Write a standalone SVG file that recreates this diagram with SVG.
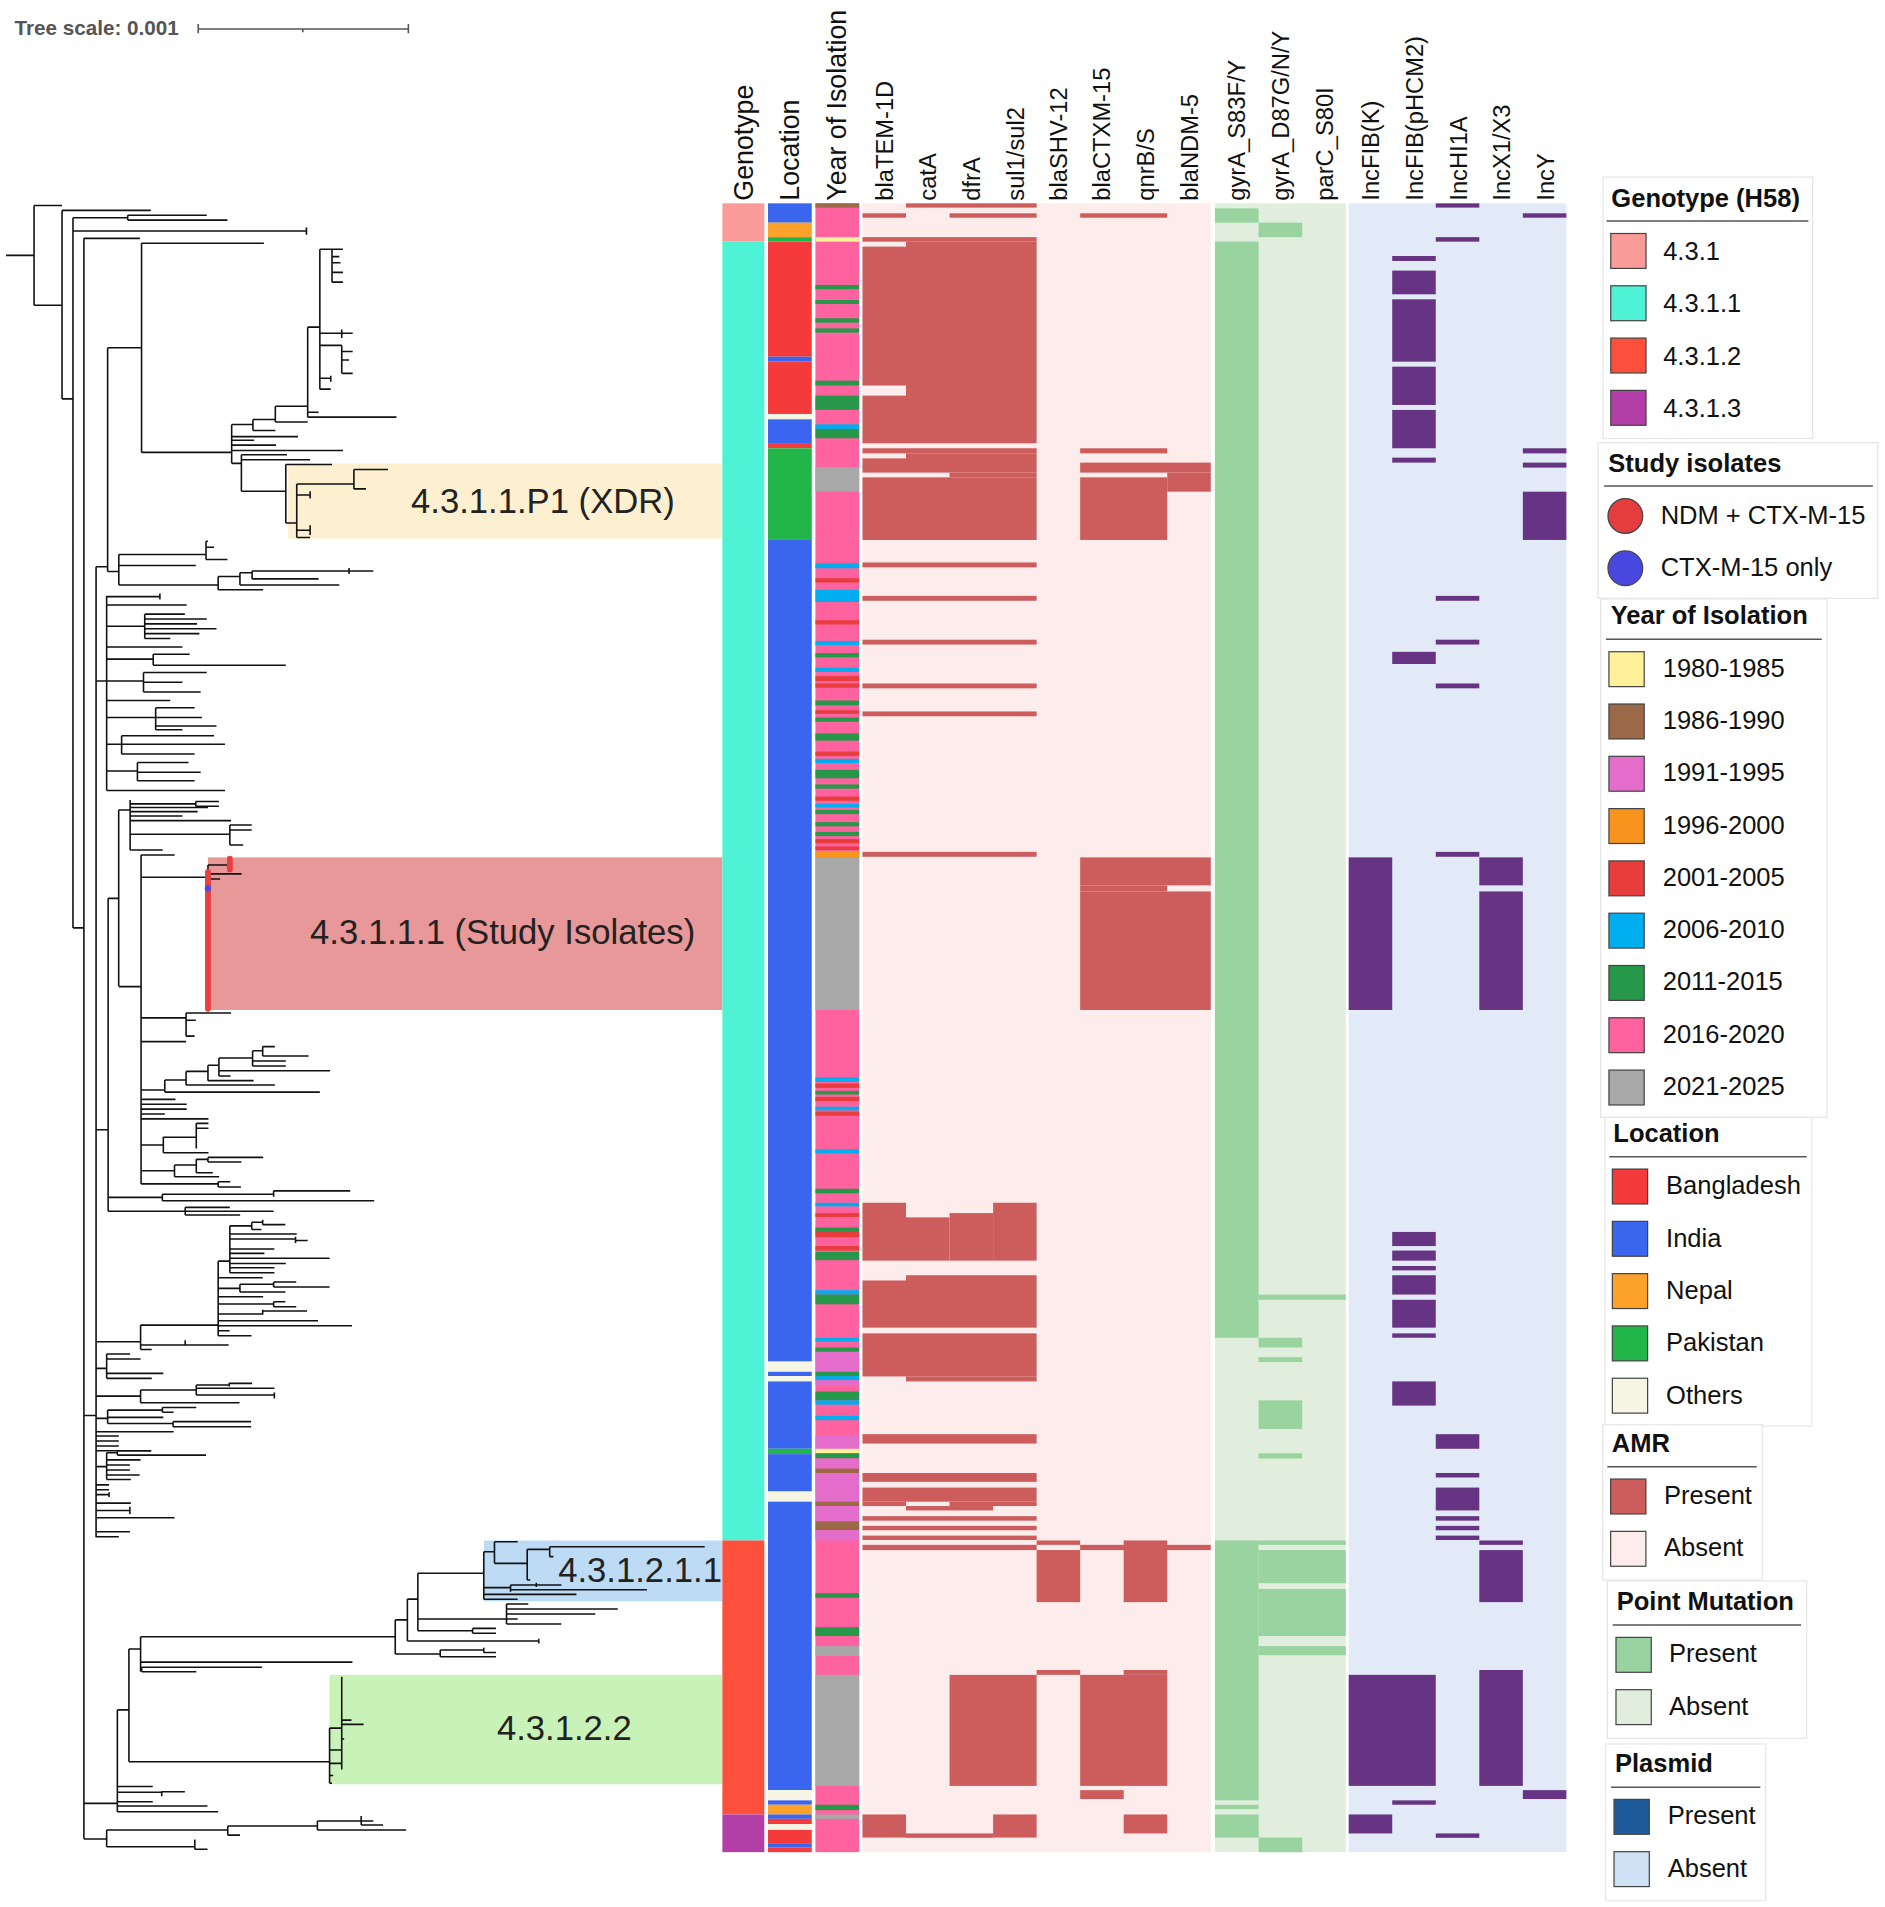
<svg xmlns="http://www.w3.org/2000/svg" width="1885" height="1907" viewBox="0 0 1885 1907">
<style>
text{font-family:"Liberation Sans",Arial,sans-serif;fill:#111}
.hd{font-size:22px}
.hg{font-size:19.5px}
.lt{font-size:21px;font-weight:bold}
.ll{font-size:21px}
.cl{font-size:28.5px;fill:#222}
.box{fill:#fff;stroke:#e6e6e6;stroke-width:1}
.ul{stroke:#555;stroke-width:1.2}
.sw{stroke:#444;stroke-width:1}
.tree{fill:none;stroke:#111;stroke-width:1.3}
.a{fill:#cd5c5c}.p{fill:#98d3a0}.q{fill:#663482}
.y80{fill:#fff09a}.y86{fill:#9b6848}.y91{fill:#e46dcc}.y96{fill:#f7941d}.y01{fill:#e83d3d}.y06{fill:#00adee}.y11{fill:#27984a}.y16{fill:#fe639f}.y21{fill:#a8a8a8}
.lb{fill:#f43a3b}.li{fill:#3a66ef}.ln{fill:#fca12a}.lp{fill:#22b54a}.lo{fill:#f7f5e4}
</style>
<rect width="1885" height="1907" fill="#fff"/>
<g transform="scale(1.21613)">
<g id="tree-scale">
<text x="12" y="29" style="font-size:17px;font-weight:bold;fill:#555">Tree scale: 0.001</text>
<path d="M163,23.8H335.8M163,19.7V27.4M335.8,19.7V27.4M249,23.8V26.5" fill="none" stroke="#555" stroke-width="1.3"/>
</g>
<g id="clade-bands">
<rect x="237" y="381" width="357" height="62" fill="#fdf0d0"/>
<rect x="171" y="705" width="423" height="125.5" fill="#e89898"/>
<rect x="398" y="1266.7" width="196" height="50" fill="#bddbf5"/>
<rect x="271" y="1377.2" width="323" height="90" fill="#c9f2b9"/>
<text class="cl" x="338" y="421.5">4.3.1.1.P1 (XDR)</text>
<text class="cl" x="255" y="776.5">4.3.1.1.1 (Study Isolates)</text>
<text class="cl" x="459" y="1300.5">4.3.1.2.1.1</text>
<text class="cl" x="408.6" y="1430.5">4.3.1.2.2</text>
</g>
<g id="tree">
<path class="tree" d="M5,210H28M28,169V251M28,169H51M28,251H51M51,173V328M51,173H124M51,328H60M60,179V763M60,179H105M105,177V181M105,177H170M105,181H187M60,190H252M252,187V193M60,763H69M69,196V1512M69,196H115M69,1164H79M79,466V1264M79,466H88.5M88.5,286V470M88.5,286H116.4M116.4,200V372M116.4,200H217M116.4,372H190.5M190.5,349V381M190.5,349H208M208,345V354M208,345H226.4M226.4,334V347M226.4,334H253M253,269V343M253,343H326M253,339H262M226.4,347H253M208,354H226.4M190.5,359H245M190.5,362H209M190.5,366H227M190.5,370.5H282M190.5,381H198.5M198.5,374V404M198.5,374H236M198.5,378H255M198.5,404H235M235,382V430M235,382H273M235,430H244M244,398V442M244,398H291M291,386V402M291,386H319M291,402H301M244,407H255M255,404V410M244,436H255M255,432V440M244,442H255
M253,269H263M263,205V320M263,205H273M273,205V232M273,205H282M273,211H279M273,216H280M273,224H282M273,232H282M263,274H290M281,271V278M263,284H281M281,284V307M281,289H290M281,296H287M281,307H290M263,311H272M272,309V314M263,320H272
M88.5,470H97.7M97.7,456V481M97.7,456H169.4M169.4,445V460M169.4,445H171M169.4,450H176M169.4,460H187M97.7,465H161M97.7,481H179.4M179.4,474V485M179.4,474H197.3M197.3,471V481M197.3,471H207.3M207.3,469.5V476M207.3,469.5H287M287,467V472M287,469.5H307M207.3,476H262M197.3,481H279M179.4,485H216.4
M79,560H87.7M87.7,490V650M87.7,490.6H131.5M131.5,488V493M87.7,497.5H153.5M87.7,515H119M119,505V525M119,505H152M119,509H170M119,513H162M119,517H178M119,521H164M119,525H140M87.7,532H150M87.7,542H126M126,538V547M126,538H156M126,547H235M87.7,560H118M118,553V569M118,553H170M118,561H150M118,569H165M87.7,576H140M87.7,590H128M128,582V600M128,582H160M128,590H166M128,597H178M128,600H150M87.7,612H100M100,605V620M100,605H176M100,612H185M100,620H160M87.7,634H113M113,627V642M113,627H155M113,635H165M113,642H160M87.7,650H185
M79,929H88.9M88.9,738.7V996M88.9,738.7H97.6M97.6,666V811M97.6,666H107M107,657.8V699M107,661H161M161,659V663M161,659H180M161,663H180M107,664H171M107,667.4H162.5M107,671H150M107,674.8H190M107,686H189M189,678.4V694.8M189,678.4H207M189,682.5H207M189,694.8H200M107,699H133.8M97.6,811.3H116M116,703V973.5M116,703H143.6M116,721.4H171M171,711.3V830.5M171,711.3H189M189,705V716M171,718.6H198.7M171,722.8H181M116,837H153M153,833V852M153,833H190M153,839H161M153,852H160M116,856.5H153
M116,896.3H135.5M135.5,888V898M135.5,888H153M153,881V892.2M153,892.2H226M153,881H171M171,876V888.6M171,888.6H208.5M171,876H180M180,870V884.8M180,884.8H189.6M180,880.4H271.4M180,870H207.7M207.7,864V876.5M207.7,872.4H235M207.7,876.5H235M207.7,864H216M216,860.6V868.3M216,860.6H226M216,868.3H253.7M135.5,898H263
M116,904H144.3M116,908H153.5M116,912H153.5M116,916H135.5M116,920H171.4M116,941.5H134.3M134.3,934.7V947.9M134.3,935.2H161.4M161.4,923.7V944.3M161.4,923.7H171.4M161.4,927.8H171.4M134.3,947.9H171.4M116,962.7H143.5M143.5,958V967.6M143.5,958H161.4M161.4,953.3V964.3M161.4,953.3H171M171,951.7V955.5M171,951.7H216.4M171,955.5H198.5M161.4,964.3H175M143.5,967.6H180.2M116,973.5H179.4M179.4,971.7V976M179.4,971.7H189.3M179.4,976H198.1
M88.9,984.6H133.5M133.5,982V987.3M133.5,982H225M225,979.2V984M225,979.2H288M133.5,987.3H307.7M88.9,996H152.3M152.3,992.8V999.1M152.3,992.8H189M152.3,996H225M152.3,999.1H197.5
M79,1103.3H115.6M115.6,1089.6V1109.6M115.6,1089.6H179.4M179.4,1037V1098.3M179.4,1037H189M189,1008V1046.5M189,1008H207M207,1005V1011M207,1005H216M216,1003V1007M216,1007H234.6M207,1011H215M189,1014.7H244M189,1018.8H243M243,1017V1022M243,1020H253M189,1027H225.6M189,1030.6H217.4M189,1034.7H271M189,1038.9H235M189,1042.4H225.6M189,1046.5H225.6M179.4,1050.6H216M179.4,1059.4H197.3M197.3,1056V1062.4M197.3,1056H225M225,1054.2V1058.3M225,1054.2H243.6M225,1058.3H271M197.3,1062.4H234.6M179.4,1066.3H216.4M179.4,1072.3H225M225,1070.4V1074.5M225,1070.4H234.6M225,1074.5H243.6M179.4,1080.5H216M216,1077V1081M216,1078H252.5M179.4,1086H261.5M179.4,1090.1H289.4M179.4,1094.2H188.8M179.4,1098.3H206.8M115.6,1106H152.3M152.3,1102V1106M152.3,1106H188M115.6,1109.6H124.8
M79,1125.2H87.7M87.7,1113.4V1133.4M87.7,1113.4H107M87.7,1117.5H115.6M87.7,1129.3H134.3M87.7,1133.4H124.8M79,1148H115.6M115.6,1143V1153.4M115.6,1143H161.4M161.4,1138.9V1147.1M161.4,1138.9H188.5M188.5,1137V1140M188.5,1137.5H207.3M161.4,1141.6H225.6M161.4,1147.1H225.6M225.6,1145V1150M115.6,1153.4H196.9
M79,1166.3H88.5M88.5,1159.5V1170.5M88.5,1159.5H133.5M133.5,1157.3V1161.3M133.5,1157.3H161.4M133.5,1161.3H142.7M88.5,1165.5H134.3M88.5,1170.5H142.3M142.3,1169V1173.2M142.3,1169H206.5M142.3,1173.2H206.5M79,1177.3H142.7M79,1180.8H97.7M79,1184.9H97.7M79,1189H97.7M79,1192.9H97.7M79,1206H87.7M87.7,1194.6V1216.5M87.7,1194.6H96.5M96.5,1193V1196.5M96.5,1193H124.4M96.5,1196.5H169.4M87.7,1200.4H115.6M87.7,1204.6H106.8M87.7,1208.7H106.8M87.7,1212.8H114.8M87.7,1216.5H107.6M79,1221H89.7M79,1225H89.7M79,1229H89.7M89.7,1227V1231M79,1236H107.6M79,1242H106.8M106.8,1239V1245M79,1248H143.5M79,1259.5H106.8M79,1263.6H97.7
M69,1482.9H96.5M96.5,1406V1489.7M96.5,1406H106M106,1356V1448.6M106,1356H115.6M115.6,1345.8V1374.6M115.6,1345.8H325M325,1332V1360M325,1332H335M335,1314.9V1349.4M335,1314.9H343.6M343.6,1293.7V1341M343.6,1293.7H397.8M397.8,1276V1315.1M397.8,1276H406.6M406.6,1267.7V1285.5M406.6,1267.7H425.7M406.6,1285.5H433.5M433.5,1274V1299.2M433.5,1274H452M452,1271.8V1280M452,1271.8H579.5M452,1280H455M433.5,1299.2H436M397.8,1305.5H419.8M419.8,1303.3V1308.8M419.8,1303.3H441M441,1301.5V1305M441,1303.3H461.6M419.8,1307.2H532M397.8,1311H474M397.8,1315.1H425.7M343.6,1331.3H416.5M416.5,1319V1335.4M416.5,1319H434.4M416.5,1323H508M416.5,1327.2H489.5M416.5,1331.3H425.7M416.5,1335.4H461.6M343.6,1340.9H388.6M388.6,1339V1343M388.6,1339H407.8M388.6,1343H407.8M335,1349.4H443M443,1347.5V1351.5M325,1360H362M362,1356.8V1362.3M362,1356.8H397.8M397.8,1355V1359M397.8,1358.8H407.8M362,1362.3H407.8M115.6,1366.7H289.8M115.6,1372.7H116.5M116.5,1371V1374.6M116.5,1371H215.4M116.5,1374.6H161.4
M106,1448.6H271M271,1421V1466.4M271,1421H281M281,1378.7V1452.7M281,1414.4H289M281,1417.9H299M281,1430H283M271,1439H281M281,1435V1445M271,1450H281M281,1447V1455M271,1460H274M271,1466.4H273M96.5,1469H125.6M96.5,1473.8H133M133,1473V1477M133,1473.3H152M96.5,1481.5H125.6M96.5,1485H170.6M96.5,1489.7H179.4
M69,1512.2H87.7M87.7,1504.8V1518.5M87.7,1504.8H187.3M187.3,1501.5V1509M187.3,1501.5H261M261,1497.4V1504.8M261,1497.4H297M297,1493.3V1500.7M297,1497.4H307M297,1500.7H315M261,1504.8H334M187.3,1509H197.3M87.7,1518.5H160.2M160.2,1512.6V1520.6M160.2,1520.6H170.6"/>
<path d="M171,717V829.5M189,706V715" stroke="#e84040" stroke-width="4.8" stroke-linecap="round" fill="none"/>
<circle cx="171" cy="730.4" r="2.6" fill="#4a4ae0"/>
</g>
<g id="col-headers">
<text class="hd" transform="translate(619,165) rotate(-90)">Genotype</text>
<text class="hd" transform="translate(657,165) rotate(-90)">Location</text>
<text class="hd" transform="translate(696,165) rotate(-90)">Year of Isolation</text>
<text class="hg" transform="translate(734,165) rotate(-90)">blaTEM-1D</text>
<text class="hg" transform="translate(770,165) rotate(-90)">catA</text>
<text class="hg" transform="translate(806,165) rotate(-90)">dfrA</text>
<text class="hg" transform="translate(842,165) rotate(-90)">sul1/sul2</text>
<text class="hg" transform="translate(877,165) rotate(-90)">blaSHV-12</text>
<text class="hg" transform="translate(913,165) rotate(-90)">blaCTXM-15</text>
<text class="hg" transform="translate(949,165) rotate(-90)">qnrB/S</text>
<text class="hg" transform="translate(985,165) rotate(-90)">blaNDM-5</text>
<text class="hg" transform="translate(1024,165) rotate(-90)">gyrA_S83F/Y</text>
<text class="hg" transform="translate(1060,165) rotate(-90)">gyrA_D87G/N/Y</text>
<text class="hg" transform="translate(1096,165) rotate(-90)">parC_S80I</text>
<text class="hg" transform="translate(1134,165) rotate(-90)">IncFIB(K)</text>
<text class="hg" transform="translate(1170,165) rotate(-90)">IncFIB(pHCM2)</text>
<text class="hg" transform="translate(1206,165) rotate(-90)">IncHI1A</text>
<text class="hg" transform="translate(1242,165) rotate(-90)">IncX1/X3</text>
<text class="hg" transform="translate(1278,165) rotate(-90)">IncY</text>
</g>
<g id="col-genotype">
<rect x="594" y="167.2" width="34.5" height="31.5" fill="#f99b98"/>
<rect x="594" y="198.7" width="34.5" height="1068" fill="#4ef3d5"/>
<rect x="594" y="1266.7" width="34.5" height="225.3" fill="#fd503c"/>
<rect x="594" y="1492" width="34.5" height="31" fill="#b13fa7"/>
</g>
<g id="col-location">
<rect class="li" x="631.5" y="167.2" width="36" height="15.9"/>
<rect class="ln" x="631.5" y="183.1" width="36" height="11.9"/>
<rect class="lp" x="631.5" y="195" width="36" height="3.7"/>
<rect class="lb" x="631.5" y="198.7" width="36" height="94.6"/>
<rect class="li" x="631.5" y="293.3" width="36" height="4.1"/>
<rect class="lb" x="631.5" y="297.4" width="36" height="43"/>
<rect class="lo" x="631.5" y="340.4" width="36" height="4.4"/>
<rect class="li" x="631.5" y="344.8" width="36" height="20.2"/>
<rect class="lb" x="631.5" y="365" width="36" height="3.6"/>
<rect class="lp" x="631.5" y="368.6" width="36" height="75.4"/>
<rect class="li" x="631.5" y="444" width="36" height="675.6"/>
<rect class="lo" x="631.5" y="1119.6" width="36" height="8.4"/>
<rect class="li" x="631.5" y="1128" width="36" height="3.5"/>
<rect class="lo" x="631.5" y="1131.5" width="36" height="4.4"/>
<rect class="li" x="631.5" y="1135.9" width="36" height="55.4"/>
<rect class="lp" x="631.5" y="1191.3" width="36" height="4.4"/>
<rect class="li" x="631.5" y="1195.7" width="36" height="30.7"/>
<rect class="lo" x="631.5" y="1226.4" width="36" height="8.4"/>
<rect class="li" x="631.5" y="1234.8" width="36" height="237.2"/>
<rect class="lo" x="631.5" y="1472" width="36" height="8.4"/>
<rect class="li" x="631.5" y="1480.4" width="36" height="3.6"/>
<rect class="ln" x="631.5" y="1484" width="36" height="8"/>
<rect class="li" x="631.5" y="1492" width="36" height="3.6"/>
<rect class="lb" x="631.5" y="1495.6" width="36" height="4.4"/>
<rect class="lo" x="631.5" y="1500" width="36" height="4.7"/>
<rect class="lb" x="631.5" y="1504.7" width="36" height="10.9"/>
<rect class="li" x="631.5" y="1515.6" width="36" height="3.4"/>
<rect class="lb" x="631.5" y="1519" width="36" height="4"/>
</g>
<g id="col-year">
<rect class="y16" x="670.5" y="167.2" width="36" height="1355.8"/>
<rect class="y86" x="670.5" y="167.2" width="36" height="3.5"/>
<rect class="y80" x="670.5" y="195" width="36" height="3.7"/>
<rect class="y11" x="670.5" y="234.3" width="36" height="3.6"/>
<rect class="y11" x="670.5" y="246.7" width="36" height="3.3"/>
<rect class="y11" x="670.5" y="261.7" width="36" height="3.6"/>
<rect class="y11" x="670.5" y="270" width="36" height="3.5"/>
<rect class="y11" x="670.5" y="313" width="36" height="4"/>
<rect class="y11" x="670.5" y="325.3" width="36" height="11.7"/>
<rect class="y06" x="670.5" y="348.9" width="36" height="3.8"/>
<rect class="y11" x="670.5" y="352.7" width="36" height="7.7"/>
<rect class="y21" x="670.5" y="384.3" width="36" height="20"/>
<rect class="y06" x="670.5" y="463.2" width="36" height="4.1"/>
<rect class="y01" x="670.5" y="475.5" width="36" height="3.5"/>
<rect class="y06" x="670.5" y="485" width="36" height="10"/>
<rect class="y01" x="670.5" y="510" width="36" height="3.5"/>
<rect class="y06" x="670.5" y="527" width="36" height="3.5"/>
<rect class="y11" x="670.5" y="537" width="36" height="3.5"/>
<rect class="y06" x="670.5" y="549" width="36" height="3.5"/>
<rect class="y01" x="670.5" y="556" width="36" height="4"/>
<rect class="y01" x="670.5" y="562" width="36" height="3.5"/>
<rect class="y11" x="670.5" y="576" width="36" height="4"/>
<rect class="y01" x="670.5" y="584" width="36" height="3"/>
<rect class="y11" x="670.5" y="590" width="36" height="3.5"/>
<rect class="y11" x="670.5" y="603" width="36" height="6"/>
<rect class="y01" x="670.5" y="618" width="36" height="3.5"/>
<rect class="y06" x="670.5" y="624" width="36" height="3.5"/>
<rect class="y11" x="670.5" y="633" width="36" height="7"/>
<rect class="y11" x="670.5" y="645" width="36" height="3.5"/>
<rect class="y01" x="670.5" y="655" width="36" height="3.5"/>
<rect class="y06" x="670.5" y="661" width="36" height="3"/>
<rect class="y11" x="670.5" y="666" width="36" height="3.5"/>
<rect class="y11" x="670.5" y="676" width="36" height="3.5"/>
<rect class="y11" x="670.5" y="684" width="36" height="3.5"/>
<rect class="y01" x="670.5" y="690" width="36" height="3.5"/>
<rect class="y01" x="670.5" y="696" width="36" height="3"/>
<rect class="y96" x="670.5" y="700" width="36" height="5"/>
<rect class="y21" x="670.5" y="705" width="36" height="125.5"/>
<rect class="y06" x="670.5" y="886" width="36" height="3.5"/>
<rect class="y01" x="670.5" y="891" width="36" height="3.5"/>
<rect class="y11" x="670.5" y="897" width="36" height="3"/>
<rect class="y01" x="670.5" y="902" width="36" height="3.5"/>
<rect class="y06" x="670.5" y="910" width="36" height="3"/>
<rect class="y01" x="670.5" y="914" width="36" height="3.5"/>
<rect class="y06" x="670.5" y="945" width="36" height="3.5"/>
<rect class="y11" x="670.5" y="977.5" width="36" height="3.7"/>
<rect class="y06" x="670.5" y="989" width="36" height="3"/>
<rect class="y01" x="670.5" y="997.5" width="36" height="3.2"/>
<rect class="y11" x="670.5" y="1009.4" width="36" height="3.6"/>
<rect class="y01" x="670.5" y="1013" width="36" height="4.4"/>
<rect class="y01" x="670.5" y="1024.6" width="36" height="3.7"/>
<rect class="y11" x="670.5" y="1029.4" width="36" height="6.8"/>
<rect class="y06" x="670.5" y="1060.9" width="36" height="3.6"/>
<rect class="y11" x="670.5" y="1064.5" width="36" height="8"/>
<rect class="y06" x="670.5" y="1100" width="36" height="3.3"/>
<rect class="y11" x="670.5" y="1108" width="36" height="3.6"/>
<rect class="y91" x="670.5" y="1111.6" width="36" height="16.4"/>
<rect class="y11" x="670.5" y="1128" width="36" height="3.5"/>
<rect class="y06" x="670.5" y="1131.5" width="36" height="3.5"/>
<rect class="y91" x="670.5" y="1135" width="36" height="4"/>
<rect class="y11" x="670.5" y="1144.2" width="36" height="7.3"/>
<rect class="y06" x="670.5" y="1151.5" width="36" height="3.5"/>
<rect class="y06" x="670.5" y="1164.1" width="36" height="3.7"/>
<rect class="y91" x="670.5" y="1180.4" width="36" height="10.9"/>
<rect class="y80" x="670.5" y="1191.3" width="36" height="3.7"/>
<rect class="y11" x="670.5" y="1195" width="36" height="4.3"/>
<rect class="y91" x="670.5" y="1199.3" width="36" height="8.3"/>
<rect class="y86" x="670.5" y="1207.6" width="36" height="3.6"/>
<rect class="y91" x="670.5" y="1211.2" width="36" height="23.6"/>
<rect class="y86" x="670.5" y="1234.8" width="36" height="3.6"/>
<rect class="y91" x="670.5" y="1238.4" width="36" height="12.6"/>
<rect class="y86" x="670.5" y="1251" width="36" height="7.3"/>
<rect class="y91" x="670.5" y="1258.3" width="36" height="8.4"/>
<rect class="y11" x="670.5" y="1310" width="36" height="3.8"/>
<rect class="y11" x="670.5" y="1338" width="36" height="7.3"/>
<rect class="y21" x="670.5" y="1353.6" width="36" height="8"/>
<rect class="y21" x="670.5" y="1377.2" width="36" height="91.3"/>
<rect class="y11" x="670.5" y="1484" width="36" height="4.4"/>
<rect class="y21" x="670.5" y="1492" width="36" height="3.6"/>
</g>
<g id="col-amr">
<rect x="709.2" y="167.2" width="286.4" height="1355.8" fill="#fdecec"/>
<rect class="a" x="745" y="167.2" width="107.4" height="3.5"/>
<rect class="a" x="709.2" y="175.4" width="35.8" height="3.6"/>
<rect class="a" x="780.8" y="175.4" width="71.6" height="3.6"/>
<rect class="a" x="888.2" y="175.4" width="71.6" height="3.6"/>
<rect class="a" x="709.2" y="195" width="143.2" height="3.7"/>
<rect class="a" x="745" y="198.7" width="107.4" height="165.8"/>
<rect class="a" x="709.2" y="202.8" width="35.8" height="114.2"/>
<rect class="a" x="709.2" y="325.3" width="35.8" height="39.2"/>
<rect class="a" x="709.2" y="368.6" width="143.2" height="4.2"/>
<rect class="a" x="888.2" y="368.6" width="71.6" height="4.2"/>
<rect class="a" x="745" y="372.8" width="107.4" height="15.8"/>
<rect class="a" x="709.2" y="376.9" width="35.8" height="11.7"/>
<rect class="a" x="780.8" y="388.6" width="71.6" height="3.9"/>
<rect class="a" x="709.2" y="392.5" width="143.2" height="51.5"/>
<rect class="a" x="888.2" y="380.4" width="107.4" height="8.2"/>
<rect class="a" x="959.8" y="388.6" width="35.8" height="15.7"/>
<rect class="a" x="888.2" y="392.5" width="71.6" height="51.5"/>
<rect class="a" x="709.2" y="462.5" width="143.2" height="4"/>
<rect class="a" x="709.2" y="490" width="143.2" height="4"/>
<rect class="a" x="709.2" y="526" width="143.2" height="4"/>
<rect class="a" x="709.2" y="562" width="143.2" height="4"/>
<rect class="a" x="709.2" y="585" width="143.2" height="4"/>
<rect class="a" x="709.2" y="700.5" width="143.2" height="4"/>
<rect class="a" x="888.2" y="705" width="107.4" height="23"/>
<rect class="a" x="888.2" y="728" width="71.6" height="5"/>
<rect class="a" x="888.2" y="733" width="107.4" height="97.5"/>
<rect class="a" x="709.2" y="989" width="35.8" height="47.6"/>
<rect class="a" x="745" y="1001" width="35.8" height="35.6"/>
<rect class="a" x="780.8" y="997.5" width="35.8" height="39.1"/>
<rect class="a" x="816.6" y="989" width="35.8" height="47.6"/>
<rect class="a" x="745" y="1048.6" width="107.4" height="43.1"/>
<rect class="a" x="709.2" y="1052.9" width="35.8" height="38.8"/>
<rect class="a" x="709.2" y="1096.4" width="143.2" height="35.4"/>
<rect class="a" x="745" y="1131.8" width="107.4" height="4.1"/>
<rect class="a" x="709.2" y="1179.3" width="143.2" height="7.7"/>
<rect class="a" x="709.2" y="1211.2" width="143.2" height="7.3"/>
<rect class="a" x="709.2" y="1223.2" width="143.2" height="11.6"/>
<rect class="a" x="709.2" y="1234.8" width="35.8" height="3.6"/>
<rect class="a" x="780.8" y="1234.8" width="71.6" height="3.6"/>
<rect class="a" x="745" y="1238.4" width="71.6" height="3.6"/>
<rect class="a" x="709.2" y="1246.7" width="143.2" height="3.7"/>
<rect class="a" x="709.2" y="1254.7" width="143.2" height="3.6"/>
<rect class="a" x="709.2" y="1262.7" width="143.2" height="3.6"/>
<rect class="a" x="709.2" y="1270.3" width="143.2" height="4.3"/>
<rect class="a" x="852.4" y="1266.7" width="35.8" height="3.6"/>
<rect class="a" x="852.4" y="1274.6" width="35.8" height="42.8"/>
<rect class="a" x="852.4" y="1373.2" width="35.8" height="4"/>
<rect class="a" x="924" y="1266.7" width="35.8" height="50.7"/>
<rect class="a" x="888.2" y="1270.3" width="107.4" height="4.3"/>
<rect class="a" x="924" y="1373.2" width="35.8" height="4"/>
<rect class="a" x="888.2" y="1377.2" width="71.6" height="91.3"/>
<rect class="a" x="780.8" y="1377.2" width="71.6" height="91.3"/>
<rect class="a" x="888.2" y="1472" width="35.8" height="7.3"/>
<rect class="a" x="709.2" y="1492" width="35.8" height="19"/>
<rect class="a" x="816.6" y="1492" width="35.8" height="19"/>
<rect class="a" x="745" y="1507.6" width="71.6" height="3.6"/>
<rect class="a" x="924" y="1492" width="35.8" height="15.6"/>
</g>
<g id="col-pointmut">
<rect x="999" y="167.2" width="107.6" height="1355.8" fill="#e2eedd"/>
<rect class="p" x="999" y="171.3" width="35.9" height="11.8"/>
<rect class="p" x="999" y="198.7" width="35.9" height="901.3"/>
<rect class="p" x="999" y="1266.7" width="35.9" height="213.7"/>
<rect class="p" x="999" y="1484" width="35.9" height="3.6"/>
<rect class="p" x="999" y="1492" width="35.9" height="19"/>
<rect class="p" x="1034.9" y="183.1" width="35.9" height="11.9"/>
<rect class="p" x="1034.9" y="1100" width="35.9" height="8"/>
<rect class="p" x="1034.9" y="1116" width="35.9" height="4"/>
<rect class="p" x="1034.9" y="1151.5" width="35.9" height="23.5"/>
<rect class="p" x="1034.9" y="1195" width="35.9" height="4.3"/>
<rect class="p" x="1034.9" y="1511" width="35.9" height="12"/>
<rect class="p" x="1034.9" y="1064.5" width="71.7" height="4.3"/>
<rect class="p" x="1034.9" y="1266.7" width="71.7" height="3.6"/>
<rect class="p" x="1034.9" y="1274.6" width="71.7" height="27.2"/>
<rect class="p" x="1034.9" y="1306.5" width="71.7" height="38.8"/>
<rect class="p" x="1034.9" y="1353.6" width="71.7" height="7.4"/>
</g>
<g id="col-plasmid">
<rect x="1109" y="167.2" width="179" height="1355.8" fill="#e2eaf7"/>
<rect class="q" x="1109" y="705" width="35.8" height="125.5"/>
<rect class="q" x="1109" y="1377.2" width="71.6" height="91.3"/>
<rect class="q" x="1109" y="1492" width="35.8" height="15.6"/>
<rect class="q" x="1144.8" y="210.5" width="35.8" height="4.1"/>
<rect class="q" x="1144.8" y="222.5" width="35.8" height="19.5"/>
<rect class="q" x="1144.8" y="246.1" width="35.8" height="51.3"/>
<rect class="q" x="1144.8" y="301.5" width="35.8" height="31.5"/>
<rect class="q" x="1144.8" y="337.1" width="35.8" height="31.5"/>
<rect class="q" x="1144.8" y="376.3" width="35.8" height="4.1"/>
<rect class="q" x="1144.8" y="536" width="35.8" height="10"/>
<rect class="q" x="1144.8" y="1013" width="35.8" height="11.6"/>
<rect class="q" x="1144.8" y="1028.3" width="35.8" height="8.3"/>
<rect class="q" x="1144.8" y="1041" width="35.8" height="3.6"/>
<rect class="q" x="1144.8" y="1048.6" width="35.8" height="15.9"/>
<rect class="q" x="1144.8" y="1068.8" width="35.8" height="22.9"/>
<rect class="q" x="1144.8" y="1096.4" width="35.8" height="3.6"/>
<rect class="q" x="1144.8" y="1135.9" width="35.8" height="19.9"/>
<rect class="q" x="1144.8" y="1480.4" width="35.8" height="3.6"/>
<rect class="q" x="1180.6" y="167.2" width="35.8" height="3.5"/>
<rect class="q" x="1180.6" y="195" width="35.8" height="3.7"/>
<rect class="q" x="1180.6" y="490" width="35.8" height="4"/>
<rect class="q" x="1180.6" y="526" width="35.8" height="4"/>
<rect class="q" x="1180.6" y="562" width="35.8" height="4"/>
<rect class="q" x="1180.6" y="700.5" width="35.8" height="4"/>
<rect class="q" x="1180.6" y="1179.3" width="35.8" height="12"/>
<rect class="q" x="1180.6" y="1211.2" width="35.8" height="3.7"/>
<rect class="q" x="1180.6" y="1223.2" width="35.8" height="18.8"/>
<rect class="q" x="1180.6" y="1246.7" width="35.8" height="3.7"/>
<rect class="q" x="1180.6" y="1254.7" width="35.8" height="3.6"/>
<rect class="q" x="1180.6" y="1262.7" width="35.8" height="3.6"/>
<rect class="q" x="1180.6" y="1507.6" width="35.8" height="3.6"/>
<rect class="q" x="1216.4" y="705" width="35.8" height="23"/>
<rect class="q" x="1216.4" y="733" width="35.8" height="97.5"/>
<rect class="q" x="1216.4" y="1266.7" width="35.8" height="3.6"/>
<rect class="q" x="1216.4" y="1274.6" width="35.8" height="42.8"/>
<rect class="q" x="1216.4" y="1373.2" width="35.8" height="95.3"/>
<rect class="q" x="1252.2" y="175.4" width="35.8" height="3.6"/>
<rect class="q" x="1252.2" y="368.6" width="35.8" height="4.2"/>
<rect class="q" x="1252.2" y="380.4" width="35.8" height="4.1"/>
<rect class="q" x="1252.2" y="404.3" width="35.8" height="39.7"/>
<rect class="q" x="1252.2" y="1472" width="35.8" height="7.3"/>
</g>
<g id="legend-genotype">
<rect class="box" x="1318" y="145.6" width="172.5" height="215"/>
<text class="lt" x="1325" y="170">Genotype (H58)</text>
<line class="ul" x1="1321" y1="181.7" x2="1487" y2="181.7"/>
<rect class="sw" x="1324.5" y="192" width="29" height="28.7" fill="#f99b98"/>
<rect class="sw" x="1324.5" y="235" width="29" height="28.7" fill="#4ef3d5"/>
<rect class="sw" x="1324.5" y="278" width="29" height="28.7" fill="#fd503c"/>
<rect class="sw" x="1324.5" y="321" width="29" height="28.7" fill="#b13fa7"/>
<text class="ll" x="1367.6" y="213.8">4.3.1</text>
<text class="ll" x="1367.6" y="256.8">4.3.1.1</text>
<text class="ll" x="1367.6" y="299.8">4.3.1.2</text>
<text class="ll" x="1367.6" y="342.8">4.3.1.3</text>
</g>
<g id="legend-study">
<rect class="box" x="1314" y="364" width="230" height="128"/>
<text class="lt" x="1322.5" y="388">Study isolates</text>
<line class="ul" x1="1319" y1="399.6" x2="1540" y2="399.6"/>
<circle class="sw" cx="1336.5" cy="424.3" r="14.3" fill="#e53d3d"/>
<circle class="sw" cx="1336.5" cy="467.3" r="14.3" fill="#4848e0"/>
<text class="ll" x="1365.5" y="431">NDM + CTX-M-15</text>
<text class="ll" x="1365.5" y="474">CTX-M-15 only</text>
</g>
<g id="legend-year">
<rect class="box" x="1316.2" y="492.5" width="186" height="426.3"/>
<text class="lt" x="1324.4" y="513.1">Year of Isolation</text>
<line class="ul" x1="1320.6" y1="525.7" x2="1498" y2="525.7"/>
<rect class="sw y80" x="1323" y="535.9" width="29" height="28.7"/>
<rect class="sw y86" x="1323" y="578.9" width="29" height="28.7"/>
<rect class="sw y91" x="1323" y="621.9" width="29" height="28.7"/>
<rect class="sw y96" x="1323" y="664.9" width="29" height="28.7"/>
<rect class="sw y01" x="1323" y="707.9" width="29" height="28.7"/>
<rect class="sw y06" x="1323" y="750.9" width="29" height="28.7"/>
<rect class="sw y11" x="1323" y="793.9" width="29" height="28.7"/>
<rect class="sw y16" x="1323" y="836.9" width="29" height="28.7"/>
<rect class="sw y21" x="1323" y="879.9" width="29" height="28.7"/>
<text class="ll" x="1367.2" y="556.4">1980-1985</text>
<text class="ll" x="1367.2" y="599.4">1986-1990</text>
<text class="ll" x="1367.2" y="642.4">1991-1995</text>
<text class="ll" x="1367.2" y="685.4">1996-2000</text>
<text class="ll" x="1367.2" y="728.4">2001-2005</text>
<text class="ll" x="1367.2" y="771.4">2006-2010</text>
<text class="ll" x="1367.2" y="814.4">2011-2015</text>
<text class="ll" x="1367.2" y="857.4">2016-2020</text>
<text class="ll" x="1367.2" y="900.4">2021-2025</text>
</g>
<g id="legend-location">
<rect class="box" x="1319.8" y="918.8" width="170" height="253.8"/>
<text class="lt" x="1326.6" y="938.8">Location</text>
<line class="ul" x1="1323.3" y1="951.1" x2="1485.6" y2="951.1"/>
<rect class="sw lb" x="1325.8" y="961.3" width="29" height="28.7"/>
<rect class="sw li" x="1325.8" y="1004.3" width="29" height="28.7"/>
<rect class="sw ln" x="1325.8" y="1047.3" width="29" height="28.7"/>
<rect class="sw lp" x="1325.8" y="1090.3" width="29" height="28.7"/>
<rect class="sw lo" x="1325.8" y="1133.3" width="29" height="28.7"/>
<text class="ll" x="1370" y="982.1">Bangladesh</text>
<text class="ll" x="1370" y="1025.1">India</text>
<text class="ll" x="1370" y="1068.1">Nepal</text>
<text class="ll" x="1370" y="1111.1">Pakistan</text>
<text class="ll" x="1370" y="1154.1">Others</text>
</g>
<g id="legend-amr">
<rect class="box" x="1317.9" y="1171.5" width="131.2" height="127.7"/>
<text class="lt" x="1325.3" y="1193.7">AMR</text>
<line class="ul" x1="1321.7" y1="1206" x2="1444.5" y2="1206"/>
<rect class="sw" x="1324.4" y="1216.2" width="29" height="28.7" fill="#cd5c5c"/>
<rect class="sw" x="1324.4" y="1259.2" width="29" height="28.7" fill="#fdecec"/>
<text class="ll" x="1368.3" y="1236.7">Present</text>
<text class="ll" x="1368.3" y="1279.7">Absent</text>
</g>
<g id="legend-pointmut">
<rect class="box" x="1321.7" y="1300" width="163.9" height="129.4"/>
<text class="lt" x="1329.4" y="1323.9">Point Mutation</text>
<line class="ul" x1="1326" y1="1336.2" x2="1481" y2="1336.2"/>
<rect class="sw" x="1328.8" y="1346.4" width="29" height="28.7" fill="#98d3a0"/>
<rect class="sw" x="1328.8" y="1389.4" width="29" height="28.7" fill="#e2eedd"/>
<text class="ll" x="1372.4" y="1366.9">Present</text>
<text class="ll" x="1372.4" y="1409.9">Absent</text>
</g>
<g id="legend-plasmid">
<rect class="box" x="1320.3" y="1434" width="131.6" height="128.9"/>
<text class="lt" x="1328" y="1457.4">Plasmid</text>
<line class="ul" x1="1324.7" y1="1469.7" x2="1447.5" y2="1469.7"/>
<rect class="sw" x="1327.2" y="1479.6" width="29" height="28.7" fill="#1f5b9b"/>
<rect class="sw" x="1327.2" y="1522.6" width="29" height="28.7" fill="#cfe1f4"/>
<text class="ll" x="1371.3" y="1500.1">Present</text>
<text class="ll" x="1371.3" y="1543.1">Absent</text>
</g>
</g>
</svg>
